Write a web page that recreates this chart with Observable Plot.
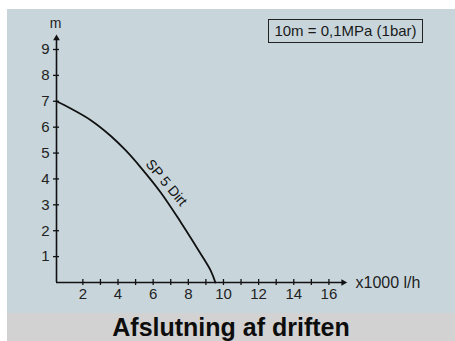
<!DOCTYPE html>
<html>
<head>
<meta charset="utf-8">
<script src="https://cdn.jsdelivr.net/npm/d3@7"></script>
<script src="https://cdn.jsdelivr.net/npm/@observablehq/plot@0.6"></script>
<style>
  html, body { margin: 0; padding: 0; background: #ffffff; }
  #wrap { position: relative; width: 455px; height: 341px; overflow: hidden; font-family: "Liberation Sans", Arial, sans-serif; }
  #panel { position: absolute; left: 7px; top: 9px; width: 448px; height: 304px; background: #c8d6dc; }
  #legend { position: absolute; left: 268px; top: 19px; width: 153px; height: 22px; border: 1px solid #222; box-sizing: content-box;
            font-size: 15px; line-height: 22px; text-align: center; color: #1a1a1a; }
  #band { position: absolute; left: 7px; top: 313px; width: 448px; height: 28px; background: #d2d2d2;
          font-weight: bold; font-size: 25px; line-height: 28px; text-align: center; color: #0d0d0d; }
  svg { overflow: visible; }
</style>
</head>
<body>
<div id="wrap">
  <div id="panel"></div>
  <div id="legend">10m = 0,1MPa (1bar)</div>
  <div id="band">Afslutning af driften</div>
</div>
<script>
// Pump curve SP 5 Dirt: flow (x1000 l/h) vs head (m)
const flow = [0.5, 1.31, 2.45, 3.59, 4.44, 5.3, 6.44, 7.57, 8.71, 9.28, 9.54];
const head = [7, 6.72, 6.27, 5.66, 5.1, 4.44, 3.47, 2.33, 1.1, 0.45, 0];
const seriesLabel = "SP 5 Dirt";

// Axes
const xTicks = [2, 3, 4, 5, 6, 7, 8, 9, 10, 11, 12, 13, 14, 15, 16];
const xTickLabels = [2, 4, 6, 8, 10, 12, 14, 16];
const yTicks = [1, 2, 3, 4, 5, 6, 7, 8, 9];
const yTickLabels = [1, 2, 3, 4, 5, 6, 7, 8, 9];
const xOrigin = 0.5;   // where the head axis crosses
const xEnd = 16.82;    // end of the flow axis (arrow)
const yEnd = 9.43;     // end of the head axis (arrow)
const xLabel = "x1000 l/h";
const yLabel = "m";

const curve = flow.map((q, i) => ({q, h: head[i]}));
const ink = "#111";

const chart = Plot.plot({
  width: 448,
  height: 304,
  marginLeft: 49,
  marginRight: 109,
  marginTop: 40,
  marginBottom: 31,
  style: {background: "transparent", fontFamily: "Liberation Sans, Arial, sans-serif"},
  x: {domain: [0.5, 17], axis: null},
  y: {domain: [0, 9], axis: null},
  marks: [
    // axis lines
    Plot.ruleY([0], {x1: xOrigin, x2: xEnd, stroke: ink, strokeWidth: 1.6}),
    Plot.ruleX([xOrigin], {y1: 0, y2: yEnd, stroke: ink, strokeWidth: 1.6}),
    // arrow heads
    Plot.dot([{x: xEnd, y: 0}], {x: "x", y: "y", symbol: "triangle", r: 2.5, fill: ink, stroke: null, rotate: 90}),
    Plot.dot([{x: xOrigin, y: yEnd}], {x: "x", y: "y", symbol: "triangle", r: 2.5, fill: ink, stroke: null}),
    // ticks crossing the axes
    Plot.ruleX(xTicks, {x: d => d, y1: 0, y2: 0, insetTop: -3, insetBottom: -3, stroke: ink, strokeWidth: 1.3}),
    Plot.ruleY(yTicks, {y: d => d, x1: xOrigin, x2: xOrigin, insetLeft: -3, insetRight: -3, stroke: ink, strokeWidth: 1.3}),
    // tick labels
    Plot.text(xTickLabels, {x: d => d, y: 0, text: d => String(d), dy: 12, lineAnchor: "middle", fontSize: 15, fill: "#222"}),
    Plot.text(yTickLabels, {x: xOrigin, y: d => d, text: d => String(d), dx: -7, textAnchor: "end", lineAnchor: "middle", fontSize: 15, fill: "#222"}),
    // axis labels
    Plot.text([yLabel], {x: xOrigin, y: 10, text: d => d, dx: -1, lineAnchor: "middle", fontSize: 14, fill: "#222"}),
    Plot.text([xLabel], {x: 17, y: 0, text: d => d, dx: 9, textAnchor: "start", lineAnchor: "middle", fontSize: 16, fill: "#222"}),
    // the curve
    Plot.line(curve, {x: "q", y: "h", curve: "catmull-rom", stroke: ink, strokeWidth: 1.8}),
    // curve label
    Plot.text([{q: 6.24, h: 3.58}], {x: "q", y: "h", text: () => seriesLabel, rotate: 50, dx: 9, dy: -7,
      textAnchor: "middle", lineAnchor: "middle", fontSize: 14, fill: "#111"})
  ]
});
document.getElementById("panel").appendChild(chart);
</script>
</body>
</html>
